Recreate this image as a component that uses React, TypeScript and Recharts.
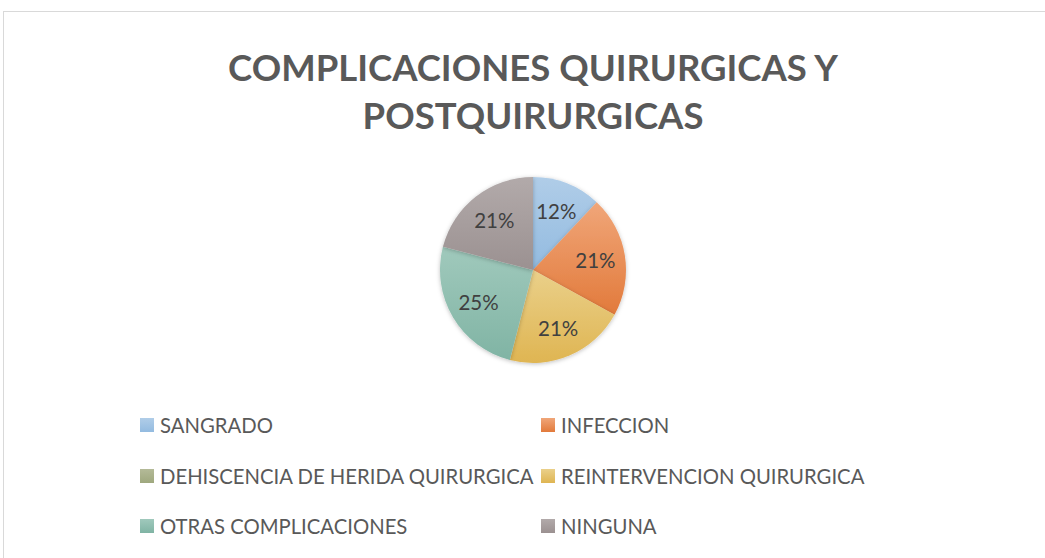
import { PieChart, Pie, Cell, Legend } from 'recharts';

const categories = [
  'SANGRADO',
  'INFECCION',
  'DEHISCENCIA DE HERIDA QUIRURGICA',
  'REINTERVENCION QUIRURGICA',
  'OTRAS COMPLICACIONES',
  'NINGUNA',
];
const percentages = [12, 21, 0, 21, 25, 21];
const topColors = ['#b0cde8', '#f0a679', '#b4ba98', '#ead08a', '#a0c9bc', '#b2aaaa'];
const bottomColors = ['#93bbe0', '#e27a3b', '#9fa87e', '#dfb552', '#80b4a4', '#9b9191'];
const titleLines = ['COMPLICACIONES QUIRURGICAS Y', 'POSTQUIRURGICAS'];

const data = categories.map((name, i) => ({ name, value: percentages[i] }));

const FONT = 'Lato, "Open Sans", sans-serif';
const RAD = Math.PI / 180;

const renderLabel = (props: any) => {
  const { cx, cy, midAngle, outerRadius, value } = props;
  if (!value) return null;
  const r = outerRadius * 0.68;
  const x = cx + r * Math.cos(-midAngle * RAD);
  const y = cy + r * Math.sin(-midAngle * RAD);
  return (
    <text x={x} y={y} fill="#404040" fontSize={20.5} fontFamily={FONT} textAnchor="middle" dominantBaseline="central">
      {`${value}%`}
    </text>
  );
};

const LegendGrid = (props: any) => {
  const items = props.payload || [];
  return (
    <div style={{ position: 'relative', width: 1045, height: 150 }}>
      {items.map((item: any, i: number) => {
        const col = i % 2;
        const row = Math.floor(i / 2);
        const k = categories.indexOf(item.value);
        return (
          <div
            key={item.value}
            style={{
              position: 'absolute',
              left: col === 0 ? 140 : 541,
              top: row * 50.5,
              display: 'flex',
              alignItems: 'center',
              height: 24,
              fontFamily: FONT,
              fontSize: 20.3,
              color: '#595959',
              whiteSpace: 'nowrap',
            }}
          >
            <span
              style={{
                display: 'inline-block',
                width: 14,
                height: 14,
                marginRight: 6,
                background: `linear-gradient(${topColors[k]}, ${bottomColors[k]})`,
              }}
            />
            {item.value}
          </div>
        );
      })}
    </div>
  );
};

export default function App() {
  return (
    <div style={{ position: 'fixed', left: 0, top: 0, width: 1045, height: 558, overflow: 'hidden', background: '#fff' }}>
      <div
        style={{
          position: 'absolute',
          left: 3,
          top: 11,
          width: 1100,
          height: 600,
          border: '1px solid #d9d9d9',
        }}
      />
      <PieChart width={1045} height={558} style={{ position: 'absolute', left: 0, top: 0 }}>
        <defs>
          {categories.map((c, i) => (
            <linearGradient key={c} id={`g${i}`} x1="0" y1="0" x2="0" y2="1">
              <stop offset="0%" stopColor={topColors[i]} />
              <stop offset="100%" stopColor={bottomColors[i]} />
            </linearGradient>
          ))}
          <filter id="shadow" x="-20%" y="-20%" width="140%" height="140%">
            <feDropShadow dx="0" dy="1" stdDeviation="2" floodColor="#000" floodOpacity="0.25" />
          </filter>
        </defs>
        <text x={533} y={67} textAnchor="middle" dominantBaseline="central" fontFamily={FONT} fontWeight="bold" fontSize={36.5} fill="#595959">
          {titleLines[0]}
        </text>
        <text x={533} y={115} textAnchor="middle" dominantBaseline="central" fontFamily={FONT} fontWeight="bold" fontSize={36.5} fill="#595959">
          {titleLines[1]}
        </text>
        <Pie
          data={data}
          dataKey="value"
          nameKey="name"
          cx={528}
          cy={265}
          outerRadius={93}
          startAngle={90}
          endAngle={-270}
          stroke="none"
          label={renderLabel}
          labelLine={false}
          isAnimationActive={false}
          style={{ filter: 'url(#shadow)' }}
        >
          {data.map((d, i) => (
            <Cell key={d.name} fill={`url(#g${i})`} />
          ))}
        </Pie>
        <Legend
          content={<LegendGrid />}
          itemSorter={(item: any) => categories.indexOf(item.value)}
          wrapperStyle={{ position: 'absolute', left: 0, top: 413, width: 1045 }}
        />
      </PieChart>
    </div>
  );
}
